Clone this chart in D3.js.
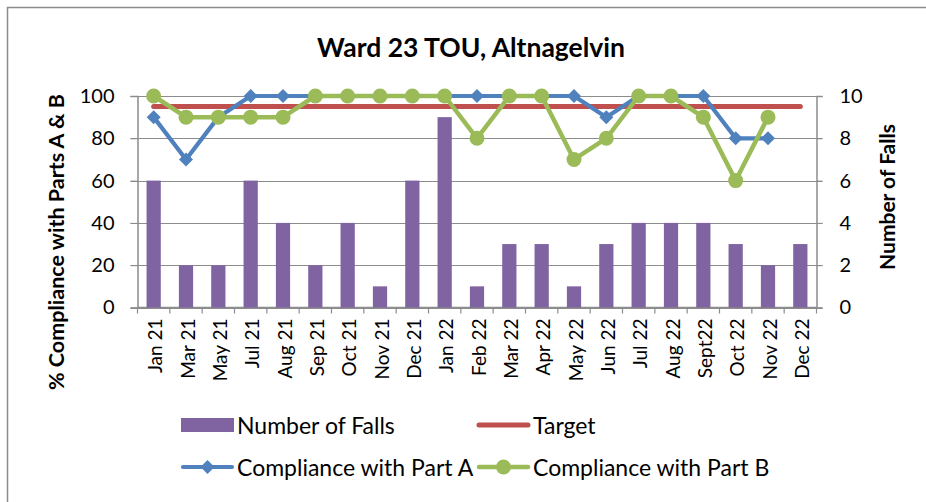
<!DOCTYPE html>
<html>
<head>
<meta charset="utf-8">
<script src="https://cdn.jsdelivr.net/npm/d3@7"></script>
<style>
  html, body { margin: 0; padding: 0; background: #fff; }
  svg { display: block; font-family: Lato, "Open Sans", sans-serif; }
</style>
</head>
<body>
<svg id="chart" width="926" height="502"></svg>
<script>
const categories = ["Jan 21","Mar 21","May 21","Jul 21","Aug 21","Sep 21","Oct 21","Nov 21","Dec 21","Jan 22","Feb 22","Mar 22","Apr 22","May 22","Jun 22","Jul 22","Aug 22","Sept22","Oct 22","Nov 22","Dec 22"];
const falls    = [6,2,2,6,4,2,4,1,6,9,1,3,3,1,3,4,4,4,3,2,3];
const target   = [95,95,95,95,95,95,95,95,95,95,95,95,95,95,95,95,95,95,95,95,95];
const partA    = [90,70,90,100,100,100,100,100,100,100,100,100,100,100,90,100,100,100,80,80,null];
const partB    = [100,90,90,90,90,100,100,100,100,100,80,100,100,70,80,100,100,90,60,90,null];
const leftTicks  = [0,20,40,60,80,100];
const rightTicks = [0,2,4,6,8,10];
const titleText = "Ward 23 TOU, Altnagelvin";
const leftTitle = "% Compliance with Parts A & B";
const rightTitle = "Number of Falls";

const svg = d3.select("#chart");
const W = 926, H = 502;
const plot = { left: 137.5, right: 816.5, top: 96, bottom: 307.5 };
const gridColor = "#8c8c8c";
const colFalls = "#8064A2", colTarget = "#C0504D", colA = "#4F81BD", colB = "#9BBB59";

// chart border
svg.append("rect").attr("x", 7.5).attr("y", 7.5).attr("width", W + 20).attr("height", H + 20)
  .attr("fill", "#fff").attr("stroke", "#8c8c8c").attr("stroke-width", 1.5);

const x = d3.scaleBand().domain(categories).range([plot.left, plot.right]).padding(0);
const yL = d3.scaleLinear().domain([0, 100]).range([plot.bottom, plot.top]);
const yR = d3.scaleLinear().domain([0, 10]).range([plot.bottom, plot.top]);
const cx = d => x(d) + x.bandwidth() / 2;

// gridlines
svg.append("g").selectAll("line").data(leftTicks).join("line")
  .attr("x1", plot.left - 7).attr("x2", plot.right + 6)
  .attr("y1", d => Math.round(yL(d)) + 0.5).attr("y2", d => Math.round(yL(d)) + 0.5)
  .attr("stroke", gridColor).attr("stroke-width", 1);

// left axis
const gL = svg.append("g").attr("transform", `translate(${plot.left},0)`)
  .call(d3.axisLeft(yL).tickValues(leftTicks).tickSize(7).tickPadding(16));
// right axis
const gR = svg.append("g").attr("transform", `translate(${plot.right},0)`)
  .call(d3.axisRight(yR).tickValues(rightTicks).tickSize(6).tickPadding(17));
[gL, gR].forEach(g => {
  g.select(".domain").attr("stroke", gridColor).attr("stroke-width", 1.5);
  g.selectAll(".tick line").attr("stroke", gridColor);
  g.selectAll(".tick text").attr("font-family", "Lato, sans-serif").attr("font-size", 20).attr("fill", "#000");
});

// bottom axis with ticks at category boundaries
svg.append("line").attr("x1", plot.left).attr("x2", plot.right)
  .attr("y1", plot.bottom).attr("y2", plot.bottom).attr("stroke", gridColor).attr("stroke-width", 1.5);
const boundaries = categories.map(c => x(c)).concat([plot.right]);
svg.append("g").selectAll("line").data(boundaries).join("line")
  .attr("x1", d => d).attr("x2", d => d)
  .attr("y1", plot.bottom).attr("y2", plot.bottom + 6)
  .attr("stroke", gridColor).attr("stroke-width", 1.2);
svg.append("g").selectAll("text").data(categories).join("text")
  .attr("transform", d => `translate(${cx(d) + 1},${plot.bottom + 11}) rotate(-90)`)
  .attr("text-anchor", "end").attr("dominant-baseline", "central")
  .attr("font-size", 19).attr("fill", "#000").text(d => d);

// bars
const barW = x.bandwidth() * 0.44;
svg.append("g").selectAll("rect").data(categories).join("rect")
  .attr("x", d => cx(d) - barW / 2).attr("width", barW)
  .attr("y", (d, i) => yR(falls[i])).attr("height", (d, i) => yR(0) - yR(falls[i]))
  .attr("fill", colFalls);

// target line
const lineL = arr => d3.line().defined((d) => d != null)
  .x((d, i) => cx(categories[i])).y(d => yL(d))(arr);
svg.append("path").attr("d", lineL(target)).attr("fill", "none")
  .attr("stroke", colTarget).attr("stroke-width", 5).attr("stroke-linecap", "round");

// Part A
svg.append("path").attr("d", lineL(partA)).attr("fill", "none")
  .attr("stroke", colA).attr("stroke-width", 4.2).attr("stroke-linejoin", "round");
const diamond = d3.symbol().type(d3.symbolSquare).size(98);
svg.append("g").selectAll("path").data(partA.map((v, i) => ({ v, c: categories[i] })).filter(d => d.v != null))
  .join("path").attr("d", diamond)
  .attr("transform", d => `translate(${cx(d.c)},${yL(d.v)}) rotate(45)`)
  .attr("fill", colA);

// Part B
svg.append("path").attr("d", lineL(partB)).attr("fill", "none")
  .attr("stroke", colB).attr("stroke-width", 4.5).attr("stroke-linejoin", "round");
svg.append("g").selectAll("circle").data(partB.map((v, i) => ({ v, c: categories[i] })).filter(d => d.v != null))
  .join("circle").attr("cx", d => cx(d.c)).attr("cy", d => yL(d.v)).attr("r", 7.5)
  .attr("fill", colB);

// title
svg.append("text").attr("x", 471).attr("y", 47).attr("text-anchor", "middle").attr("dominant-baseline", "central")
  .attr("font-size", 26.5).attr("font-weight", "bold").attr("fill", "#000").text(titleText);

// axis titles
svg.append("text").attr("transform", `translate(56,242) rotate(-90)`)
  .attr("text-anchor", "middle").attr("dominant-baseline", "central")
  .attr("font-size", 21.5).attr("font-weight", "bold").attr("fill", "#000").text(leftTitle);
svg.append("text").attr("transform", `translate(886,197) rotate(-90)`)
  .attr("text-anchor", "middle").attr("dominant-baseline", "central")
  .attr("font-size", 21).attr("font-weight", "bold").attr("fill", "#000").text(rightTitle);

// legend
const leg = svg.append("g").attr("font-size", 23).attr("fill", "#000");
const row1 = 425, row2 = 467;
const sx1 = 181, sx2 = 477, sw = 53;
leg.append("rect").attr("x", sx1).attr("y", row1 - 7).attr("width", sw).attr("height", 14).attr("fill", colFalls);
leg.append("text").attr("x", sx1 + sw + 3).attr("y", row1).attr("dominant-baseline", "central").text("Number of Falls");
leg.append("line").attr("x1", sx2 + 2).attr("x2", sx2 + sw - 2).attr("y1", row1).attr("y2", row1)
  .attr("stroke", colTarget).attr("stroke-width", 5).attr("stroke-linecap", "round");
leg.append("text").attr("x", sx2 + sw + 3).attr("y", row1).attr("dominant-baseline", "central").text("Target");
leg.append("line").attr("x1", sx1 + 2).attr("x2", sx1 + sw - 2).attr("y1", row2).attr("y2", row2)
  .attr("stroke", colA).attr("stroke-width", 4.2).attr("stroke-linecap", "round");
leg.append("path").attr("d", diamond).attr("transform", `translate(${sx1 + sw / 2},${row2}) rotate(45)`).attr("fill", colA);
leg.append("text").attr("x", sx1 + sw + 3).attr("y", row2).attr("dominant-baseline", "central").text("Compliance with Part A");
leg.append("line").attr("x1", sx2 + 2).attr("x2", sx2 + sw - 2).attr("y1", row2).attr("y2", row2)
  .attr("stroke", colB).attr("stroke-width", 4.5).attr("stroke-linecap", "round");
leg.append("circle").attr("cx", sx2 + sw / 2).attr("cy", row2).attr("r", 7.5).attr("fill", colB);
leg.append("text").attr("x", sx2 + sw + 3).attr("y", row2).attr("dominant-baseline", "central").text("Compliance with Part B");
</script>
</body>
</html>
